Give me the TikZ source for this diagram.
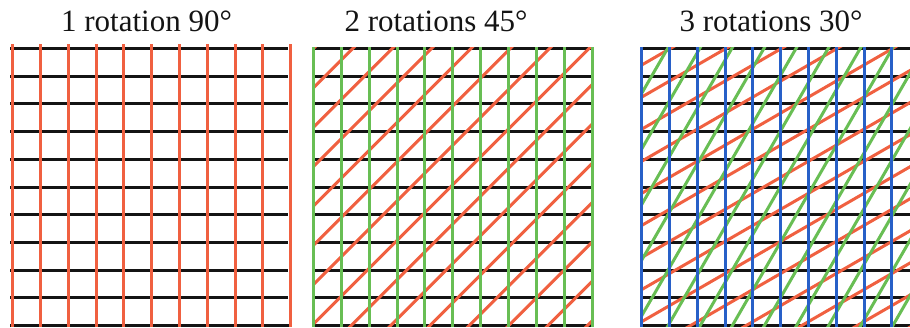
\documentclass[tikz,border=0pt]{standalone}
\usepackage{fontspec}
\setmainfont{Liberation Serif}
\newfontfamily\titlefont{Liberation Serif}
\definecolor{gridred}{RGB}{240,96,64}
\definecolor{gridgreen}{RGB}{104,190,84}
\definecolor{gridblue}{RGB}{40,96,200}
\definecolor{gridblack}{RGB}{20,20,20}
\tikzset{
  blk/.style={draw=gridblack, line width=3pt},
  redl/.style={draw=gridred, line width=3pt},
  grnl/.style={draw=gridgreen, line width=3pt},
  blul/.style={draw=gridblue, line width=3pt},
  title/.style={anchor=base, inner sep=0pt, text=gridblack, font=\titlefont\fontsize{31}{36}\selectfont}
}
\begin{document}
\begin{tikzpicture}[x=1pt,y=-1pt]
\useasboundingbox[fill=white] (0,0) rectangle (910,327);
% titles
\node[title] (t1) at (146.5,31.5) {1 rotation 90°};
\node[title] (t2) at (436,31.5) {2 rotations 45°};
\node[title] (t3) at (771,31.5) {3 rotations 30°};
% ---------- panel 1 ----------
\foreach \i in {0,...,10} {
  \draw[blk] (10,{48.5+27.7*\i}) -- (288,{48.5+27.7*\i});
}
\draw[blk] (10,325.5) -- (292,325.5);
\foreach \j in {0,...,10} {
  \draw[redl] ({12.7+27.8*\j},44) -- ({12.7+27.8*\j},327);
}
% ---------- panel 2 ----------
\foreach \i in {0,...,10} {
  \draw[blk] (313,{48.5+27.7*\i}) -- (591,{48.5+27.7*\i});
}
\begin{scope}
  \clip (313.3,47) rectangle (592.3,326.5);
  \foreach \k in {0,...,15} {
    \pgfmathsetmacro\cc{362+39.35*\k}
    \draw[redl] ({\cc-335},335) -- ({\cc-40},40);
  }
\end{scope}
\foreach \j in {0,...,10} {
  \draw[grnl] ({313.3+27.9*\j},47) -- ({313.3+27.9*\j},327);
}
% ---------- panel 3 ----------
\foreach \i in {0,...,10} {
  \draw[blk] (641,{48.5+27.7*\i}) -- (910,{48.5+27.7*\i});
}
\begin{scope}
  \clip (641.7,47) rectangle (910,326.5);
  \foreach \k in {-1,...,14} {
    \pgfmathsetmacro\cc{435.5+32.08*\k}
    \draw[redl] (630,{\cc-630*0.57735}) -- (920,{\cc-920*0.57735});
  }
  \foreach \k in {-1,...,14} {
    \pgfmathsetmacro\cc{1204.8+55.6*\k}
    \draw[grnl] ({(\cc-40)/1.73205},40) -- ({(\cc-335)/1.73205},335);
  }
\end{scope}
\foreach \j in {0,...,9} {
  \draw[blul] ({641.7+27.8*\j},47) -- ({641.7+27.8*\j},327);
}
\end{tikzpicture}
\end{document}
